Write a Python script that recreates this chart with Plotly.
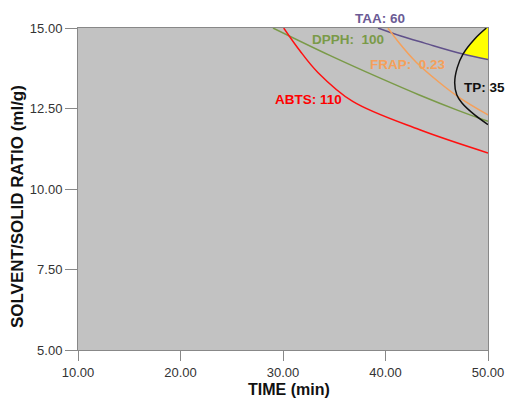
import plotly.graph_objects as go

# ---- data ----
abts_x = [30.07, 31.63, 33.40, 36.80, 43.34, 50.00]
abts_y = [15.00, 14.30, 13.62, 12.72, 11.84, 11.12]

dpph_x = [29.02, 34.56, 39.43, 43.30, 47.00, 50.00]
dpph_y = [15.00, 14.15, 13.45, 12.92, 12.45, 12.10]

taa_x = [39.27, 41.50, 43.82, 47.56, 50.00]
taa_y = [15.00, 14.75, 14.53, 14.19, 14.02]

frap_x = [40.24, 41.38, 43.02, 45.29, 47.24, 50.00]
frap_y = [15.00, 14.52, 13.93, 13.30, 12.83, 12.30]

tp_x = [49.84, 48.70, 47.56, 47.00, 46.75, 46.95, 47.46, 48.70, 50.00]
tp_y = [15.00, 14.66, 14.19, 13.77, 13.30, 12.93, 12.67, 12.30, 12.00]

x_range = [10, 50]
y_range = [5, 15]

labels = ["TAA:\u00a060", "DPPH:\u00a0\u00a0100", "FRAP:\u00a0\u00a00.23", "TP:\u00a035", "ABTS:\u00a0110"]
label_x = [39.48, 36.38, 42.17, 49.63, 32.51]
label_y = [15.31, 14.64, 13.86, 13.14, 12.77]

font_family = "Liberation Sans, Arial, sans-serif"

fig = go.Figure()

# feasible (yellow) region: top of TP arc, then TAA line, then plot corner
reg_x = tp_x[:3] + taa_x[-1:] + [x_range[1], tp_x[0]]
reg_y = tp_y[:3] + taa_y[-1:] + [y_range[1], tp_y[0]]
fig.add_trace(go.Scatter(x=reg_x, y=reg_y, mode="lines", fill="toself",
                         fillcolor="#ffff00", line=dict(width=0, color="#ffff00"),
                         hoverinfo="skip", showlegend=False))

curves = [
    (taa_x, taa_y, "#60508a"),
    (dpph_x, dpph_y, "#7a9a48"),
    (frap_x, frap_y, "#f5a05a"),
    (abts_x, abts_y, "#ff1010"),
    (tp_x, tp_y, "#111111"),
]
for cx, cy, col in curves:
    fig.add_trace(go.Scatter(x=cx, y=cy, mode="lines",
                             line=dict(color=col, width=1.5, shape="spline", smoothing=1.0),
                             showlegend=False, hoverinfo="skip"))

label_colors = ["#6b5b95", "#7a9a48", "#f5a05a", "#111111", "#ff0000"]
y_top = y_range[1]
for t, lx, ly, c in zip(labels, label_x, label_y, label_colors):
    if ly > y_top:
        yref, yy = "paper", (ly - y_range[0]) / (y_range[1] - y_range[0])
    else:
        yref, yy = "y", ly
    fig.add_annotation(x=lx, y=yy, xref="x", yref=yref, text="<b>%s</b>" % t,
                       showarrow=False, xanchor="center", yanchor="middle",
                       font=dict(family=font_family, size=13.5, color=c))

# axis titles
fig.add_annotation(x=0.515, y=-0.124, xref="paper", yref="paper",
                   text="<b>TIME (min)</b>", showarrow=False,
                   xanchor="center", yanchor="middle",
                   font=dict(family=font_family, size=16, color="#111111"))
fig.add_annotation(x=-0.147, y=0.446, xref="paper", yref="paper",
                   text="<b>SOLVENT/SOLID RATIO (ml/g)</b>", showarrow=False,
                   textangle=-90, xanchor="center", yanchor="middle",
                   font=dict(family=font_family, size=17, color="#111111"))

fig.update_layout(
    width=507, height=398,
    margin=dict(l=78, r=19, t=28, b=48),
    paper_bgcolor="white", plot_bgcolor="#c2c2c2",
    font=dict(family=font_family, size=13, color="#333333"),
    showlegend=False,
)
fig.update_xaxes(range=x_range, dtick=10, tick0=10, tickformat=".2f", automargin=False,
                 ticks="outside", ticklen=10, tickcolor="#888888", tickwidth=1,
                 showgrid=False, zeroline=False, showline=True, linecolor="#888888",
                 linewidth=1, mirror=True, tickfont=dict(size=13, color="#333333"))
fig.update_yaxes(range=y_range, dtick=2.5, tick0=5, tickformat=".2f", automargin=False,
                 ticks="outside", ticklen=12, tickcolor="#888888", tickwidth=1,
                 showgrid=False, zeroline=False, showline=True, linecolor="#888888",
                 linewidth=1, mirror=True, tickfont=dict(size=13, color="#333333"))

fig.write_html("out.html", config={"displayModeBar": False},
               post_script="document.body.style.margin='0';document.body.style.overflow='hidden';")
